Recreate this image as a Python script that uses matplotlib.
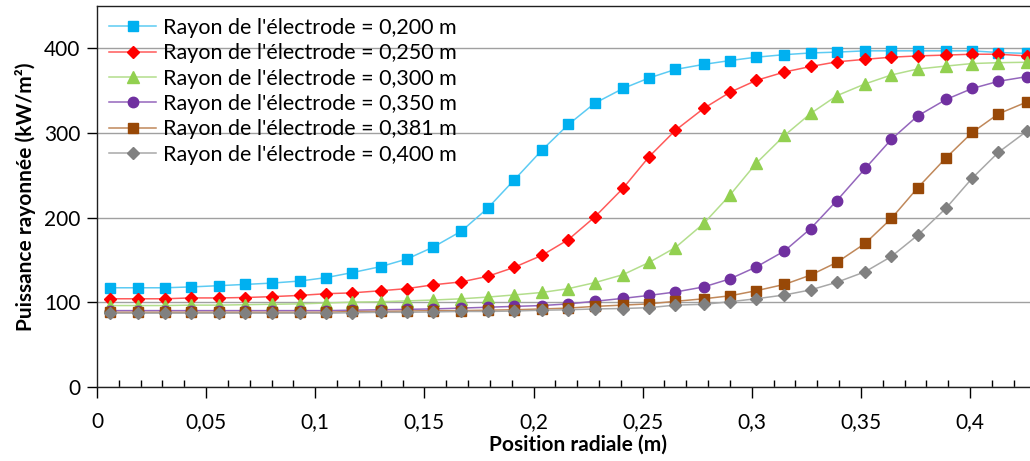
import matplotlib
matplotlib.use("Agg")
import matplotlib.pyplot as plt
from matplotlib.ticker import MultipleLocator, FuncFormatter

# positions radiales (m)
x = [0.006, 0.019, 0.031, 0.043, 0.056, 0.068, 0.080, 0.093, 0.105, 0.117,
     0.130, 0.142, 0.154, 0.167, 0.179, 0.191, 0.204, 0.216, 0.228, 0.241,
     0.253, 0.265, 0.278, 0.290, 0.302, 0.315, 0.327, 0.339, 0.352, 0.364,
     0.376, 0.389, 0.401, 0.413, 0.426]

# puissance rayonnee (kW/m2) pour chaque rayon d'electrode
r200 = [117, 117, 117, 118, 119.5, 121, 122.5, 125, 129, 135,
        142, 151, 165, 184, 211, 244, 280, 310, 335, 352.5,
        365, 375, 381, 385.5, 389.5, 392.5, 394.5, 395.5, 397, 397,
        397, 397, 397, 395, 394]
r250 = [104, 104, 104, 105, 105, 105.5, 106.5, 108, 110, 111,
        113.5, 116, 120.5, 124, 130.5, 141, 155.5, 174, 200.5, 234.5,
        272, 303, 329, 348, 362, 372, 378.5, 384, 387, 389.5,
        391, 392, 393, 393, 391]
r300 = [96, 96, 96, 96.5, 96.5, 97, 97.5, 98, 99, 100,
        100.5, 101.5, 102.5, 104, 106, 108.5, 111.5, 116, 123, 132.5,
        147, 164.5, 193, 226.5, 264, 297, 323, 344, 358, 368.5,
        375.5, 379, 382, 383, 383.5]
r350 = [90, 90, 90, 90, 90, 90, 90, 90, 90, 90.5,
        91, 91.5, 92, 93, 94, 95, 96, 98, 101, 104.5,
        108, 112, 118, 127.5, 141.5, 160.5, 187, 220, 258, 292.5,
        320, 339.5, 352.5, 361, 366.5]
r381 = [88, 88, 88, 88, 88, 88, 88, 88, 88, 89,
        89, 89.5, 90, 90, 90.5, 91, 92, 93, 95, 96.5,
        98, 101, 104, 107.5, 113.5, 121, 132, 147, 169.5, 199,
        235, 270.5, 300.5, 322.5, 336.5]
r400 = [87, 87, 87, 87, 87, 87, 87, 87, 87, 87.5,
        88, 88, 88.5, 89, 89, 89.5, 90.5, 91, 92, 92.5,
        93.5, 96.5, 97.5, 100.5, 104, 108.5, 114.5, 123.5, 136, 154,
        179, 211, 246.5, 277, 302]

series = [r200, r250, r300, r350, r381, r400]
labels = ["Rayon de l'électrode = 0,200 m", "Rayon de l'électrode = 0,250 m",
          "Rayon de l'électrode = 0,300 m", "Rayon de l'électrode = 0,350 m",
          "Rayon de l'électrode = 0,381 m", "Rayon de l'électrode = 0,400 m"]
markers = ['s', 'D', '^', 'o', 's', 'D']
msizes = [7, 6, 8, 7.5, 7, 6]
mcolors = ['#00B0F0', '#FF0000', '#92D050', '#7030A0', '#984807', '#808080']
lcolors = ['#5CCBF3', '#FF5A5A', '#B3DE8C', '#9466BC', '#C0885A', '#A8A8A8']

plt.rcParams['font.family'] = ['Lato', 'DejaVu Sans']

fig = plt.figure(figsize=(10.3, 4.61), dpi=100)
ax = fig.add_axes([0.0942, 0.161, 0.9058, 0.826])

for y, lab, m, ms, mc, lc in zip(series, labels, markers, msizes, mcolors, lcolors):
    ax.plot(x, y, color=lc, lw=1.1, marker=m, ms=ms, markerfacecolor=mc,
            markeredgecolor=mc, label=lab)

ax.set_xlim(0, 0.4275)
ax.set_ylim(0, 450)
ax.xaxis.set_major_locator(MultipleLocator(0.05))
ax.xaxis.set_minor_locator(MultipleLocator(0.01))
ax.set_yticks([0, 100, 200, 300, 400])
ax.xaxis.set_major_formatter(FuncFormatter(lambda v, p: ('%g' % round(v, 3)).replace('.', ',')))

ax.grid(axis='y', color='#A0A0A0', lw=1)
ax.set_axisbelow(True)
ax.spines['right'].set_visible(False)
for s in ['left', 'bottom', 'top']:
    ax.spines[s].set_color('#202020')
    ax.spines[s].set_linewidth(1)
ax.tick_params(axis='x', which='major', direction='out', length=8, width=1, labelsize=15, pad=10)
ax.tick_params(axis='x', which='minor', direction='in', length=5, width=1)
ax.tick_params(axis='y', which='major', direction='out', length=7, width=1, labelsize=15, pad=5)

ax.set_xlabel("Position radiale (m)", fontsize=15, fontweight='bold')
ax.xaxis.set_label_coords(0.515, -0.125, transform=ax.transAxes)
ax.xaxis.label.set_va('top')
ax.set_ylabel("Puissance rayonnée (kW/m²)", fontsize=15, fontweight='bold', labelpad=6)

ax.legend(loc='upper left', bbox_to_anchor=(0.0, 1.0), frameon=False, fontsize=15.5,
          handlelength=2.2, handletextpad=0.3, labelspacing=0.25, borderaxespad=0.15)

fig.savefig("out.png", dpi=100)
